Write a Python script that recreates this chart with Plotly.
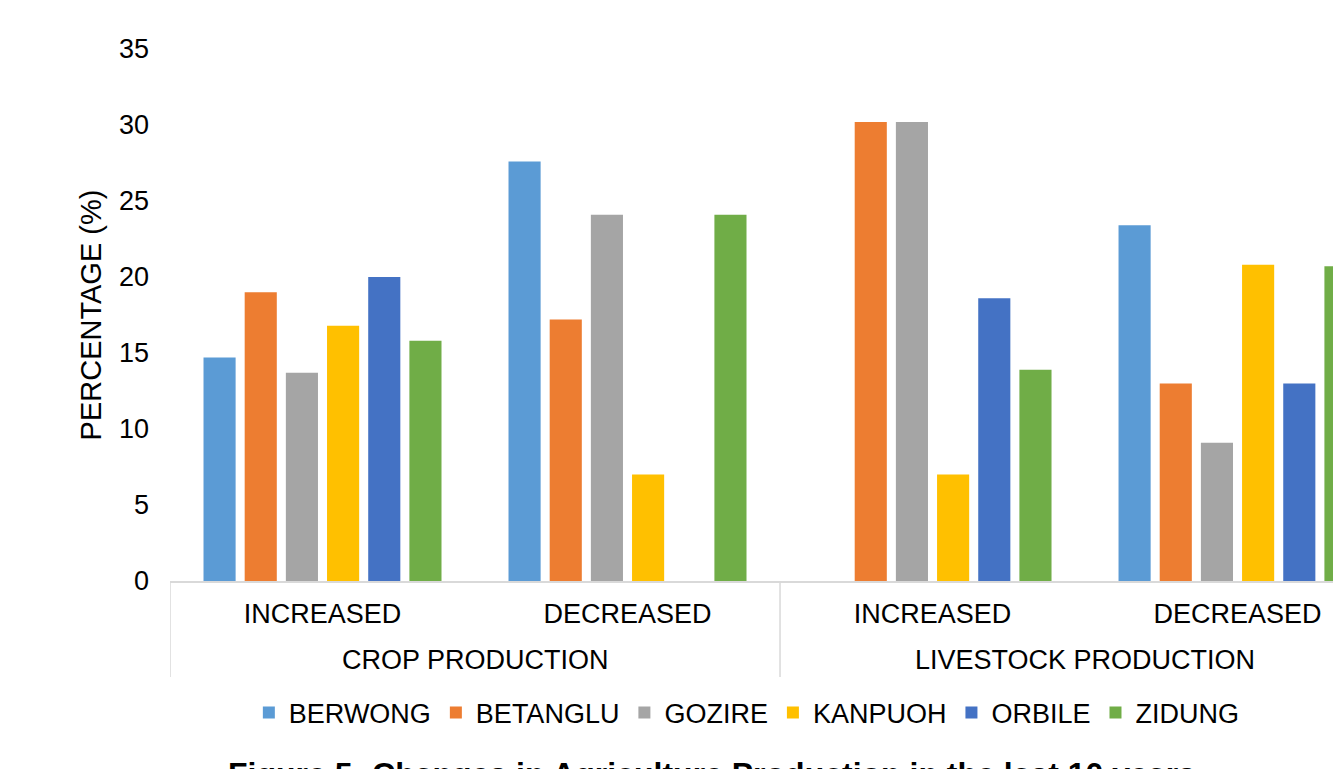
import plotly.graph_objects as go

groups = ["CROP PRODUCTION", "CROP PRODUCTION", "LIVESTOCK PRODUCTION", "LIVESTOCK PRODUCTION"]
changes = ["INCREASED", "DECREASED", "INCREASED", "DECREASED"]
group_labels = ["CROP PRODUCTION", "LIVESTOCK PRODUCTION"]

series_names = ["BERWONG", "BETANGLU", "GOZIRE", "KANPUOH", "ORBILE", "ZIDUNG"]
berwong = [14.7, 27.6, 0, 23.4]
betanglu = [19.0, 17.2, 30.2, 13.0]
gozire = [13.7, 24.1, 30.2, 9.1]
kanpuoh = [16.8, 7.0, 7.0, 20.8]
orbile = [20.0, 0, 18.6, 13.0]
zidung = [15.8, 24.1, 13.9, 20.7]
colors = ["#5B9BD5", "#ED7D31", "#A5A5A5", "#FFC000", "#4472C4", "#70AD47"]

y_ticks = [0, 5, 10, 15, 20, 25, 30, 35]

FONT = "Liberation Sans, Arial, sans-serif"
AXIS_GRAY = "#D9D9D9"

x_keys = [g + " / " + c for g, c in zip(groups, changes)]

fig = go.Figure()
for name, vals, col in zip(series_names, [berwong, betanglu, gozire, kanpuoh, orbile, zidung], colors):
    fig.add_trace(go.Bar(name=name, x=x_keys, y=vals, marker=dict(color=col, line=dict(width=0))))

# group labels and dividers of the two-level category axis
n_per_group = len(changes) // len(group_labels)
annotations = []
shapes = []
for gi, gl in enumerate(group_labels):
    center = gi * n_per_group + (n_per_group - 1) / 2
    annotations.append(dict(text=gl, xref="x", yref="paper", x=center, y=-0.1485,
                            xanchor="center", yanchor="middle", showarrow=False,
                            font=dict(family=FONT, size=27, color="#000000")))
for b in range(len(group_labels) + 1):
    xb = b * n_per_group - 0.5
    shapes.append(dict(type="line", xref="x", yref="paper", x0=xb, x1=xb, y0=0, y1=-0.1805,
                       line=dict(color=AXIS_GRAY, width=1.5)))

annotations.append(dict(text="<b>Figure 5: Changes in Agriculture Production in the last 10 years</b>",
                        xref="paper", yref="paper", x=0.466, y=-0.325, xanchor="center", yanchor="top",
                        showarrow=False, font=dict(family=FONT, size=32, color="#000000")))

fig.update_layout(
    width=1333, height=769, autosize=False,
    margin=dict(l=170, r=0, t=49, b=188),
    paper_bgcolor="white", plot_bgcolor="white",
    barmode="group", bargap=0.19, bargroupgap=0.22,
    font=dict(family=FONT, size=27, color="#000000"),
    showlegend=True,
    legend=dict(orientation="h", x=0.496, xanchor="center", y=-0.248, yanchor="middle",
                font=dict(family=FONT, size=27, color="#000000"), traceorder="normal"),
    xaxis=dict(type="category", range=[-0.5, 3.313], showline=True, linecolor=AXIS_GRAY, linewidth=1.5,
               showgrid=False, ticks="", tickvals=x_keys, ticktext=changes, ticklabelstandoff=8,
               tickfont=dict(family=FONT, size=27, color="#000000")),
    yaxis=dict(range=[0, 35], tickvals=y_ticks, showgrid=False, zeroline=False, showline=False, ticks="",
               ticklabelstandoff=20, tickfont=dict(family=FONT, size=27, color="#000000"),
               title=dict(text="PERCENTAGE (%)", font=dict(family=FONT, size=29, color="#000000"), standoff=8)),
    annotations=annotations,
    shapes=shapes,
)

fig.write_html("out.html")
